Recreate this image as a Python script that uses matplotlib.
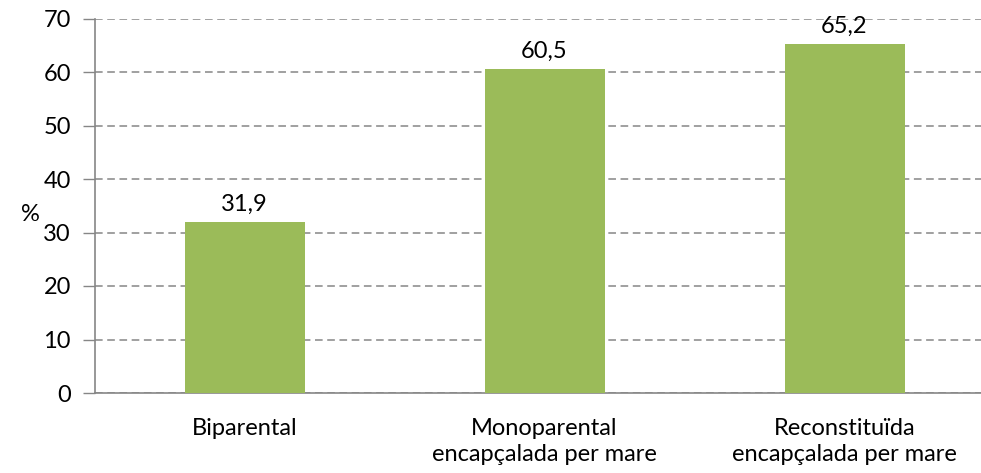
import matplotlib
matplotlib.use("Agg")
import matplotlib.pyplot as plt

categories = ["Biparental", "Monoparental\nencapçalada per mare", "Reconstituïda\nencapçalada per mare"]
values = [31.9, 60.5, 65.2]
labels = ["31,9", "60,5", "65,2"]

plt.rcParams['font.family'] = ['Lato', 'DejaVu Sans']

W, H = 981, 473
fig = plt.figure(figsize=(W/100, H/100), dpi=100)
left, right = 94.5, 994.5
bottom, top = 393, 18.5
ax = fig.add_axes([left/W, 1 - bottom/H, (right-left)/W, (bottom-top)/H])

FS = 17
x = range(len(categories))
ax.bar(x, values, width=0.4, color="#9BBB59", zorder=3)
ax.set_xlim(-0.5, 2.5)
ax.set_ylim(0, 70)
ax.set_yticks(range(0, 71, 10))
ax.yaxis.grid(True, linestyle=(0, (5, 3)), color="#868686", linewidth=1.1, zorder=0)
ax.set_xticks(list(x))
ax.set_xticklabels(categories, fontsize=FS, linespacing=1.3)
ax.tick_params(axis='x', length=0, pad=18)
ax.tick_params(axis='y', length=9, width=1, color="#868686", labelsize=FS, pad=8)
for s in ['top', 'right']:
    ax.spines[s].set_visible(False)
for s in ['left', 'bottom']:
    ax.spines[s].set_color("#868686")
    ax.spines[s].set_linewidth(1.2)
for xi, v, t in zip(x, values, labels):
    ax.text(xi, v + 2.2, t, ha='center', va='baseline', fontsize=FS)
fig.text(30/W, 1 - 214/H, "%", ha='center', va='center', fontsize=FS)
fig.savefig("out.png", dpi=100)
